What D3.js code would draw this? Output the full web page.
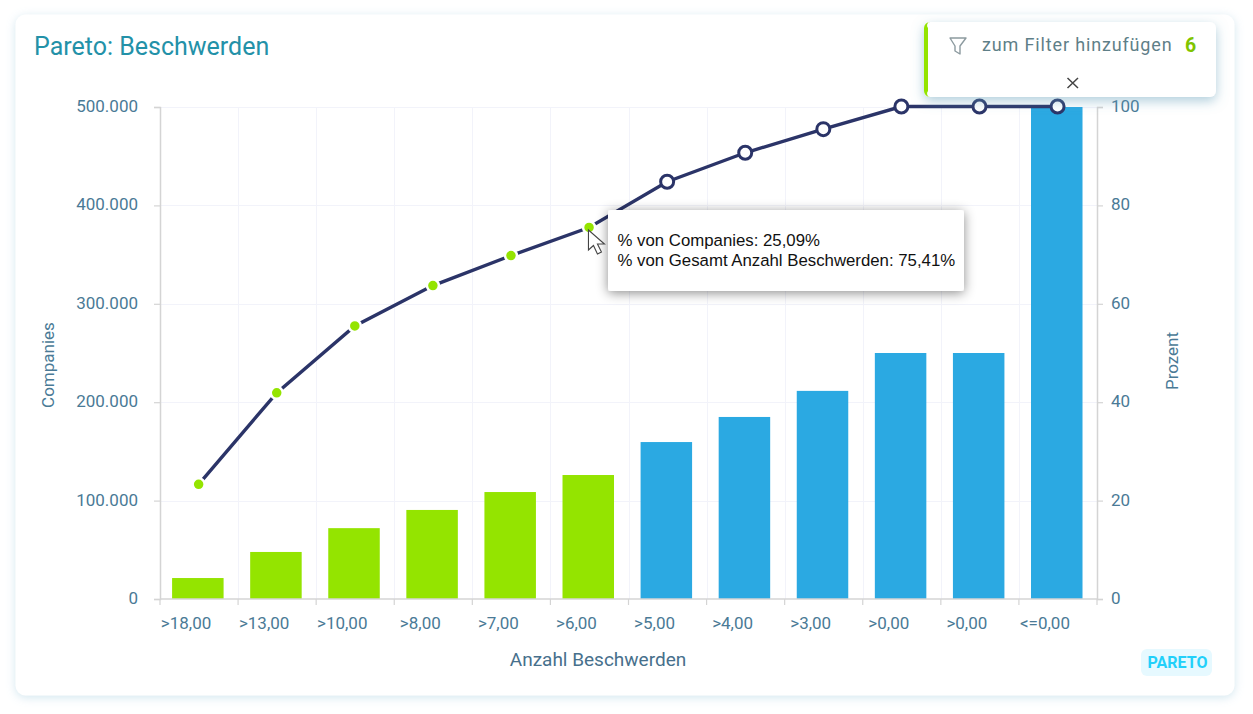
<!DOCTYPE html>
<html><head><meta charset="utf-8">
<script src="https://cdn.jsdelivr.net/npm/d3@7"></script>
<style>
html,body{margin:0;padding:0;background:#fff;width:1253px;height:714px;overflow:hidden}
text{font-family:Roboto,sans-serif}
</style></head><body>
<svg id="c" width="1253" height="714"></svg>
<script>
const categories=[">18,00",">13,00",">10,00",">8,00",">7,00",">6,00",">5,00",">4,00",">3,00",">0,00",">0,00 ","<=0,00"];
const companies=[21300,47800,72000,90500,108700,126000,159500,185000,211500,250000,250000,500000];
const percent=[23.2,41.8,55.4,63.6,69.7,75.41,84.7,90.6,95.4,100,100,100];
const selected=[1,1,1,1,1,1,0,0,0,0,0,0];
const leftTicks=[0,100000,200000,300000,400000,500000];
const rightTicks=[0,20,40,60,80,100];
const tooltipLines=["% von Companies: 25,09%","% von Gesamt Anzahl Beschwerden: 75,41%"];

const svg=d3.select("#c");
const defs=svg.append("defs");
function shadow(id,dy,sd,col,op){
  const f=defs.append("filter").attr("id",id).attr("x","-20%").attr("y","-30%").attr("width","140%").attr("height","170%");
  f.append("feDropShadow").attr("dx",0).attr("dy",dy).attr("stdDeviation",sd).attr("flood-color",col).attr("flood-opacity",op);
}
shadow("card",2,5,"#9cc9dc",.45);
shadow("pop",4,6,"#5f9db8",.5);
shadow("tip",2,6,"#000",.45);

svg.append("rect").attr("x",15.5).attr("y",14.5).attr("width",1219).attr("height",681).attr("rx",10).attr("fill","#fff").attr("filter","url(#card)");
svg.append("text").attr("x",34).attr("y",55).attr("font-size",25).attr("fill","#2391a8").text("Pareto: Beschwerden");

const L=160,R=1097,T=107,B=599;
const x=d3.scaleBand().domain(categories).range([L,R]).paddingInner(0).paddingOuter(0);
const yL=d3.scaleLinear().domain([0,500000]).range([B,T]);
const yR=d3.scaleLinear().domain([0,100]).range([B,T]);
const de=d3.formatLocale({decimal:",",thousands:".",grouping:[3],currency:["","€"]});
const axisCol="#d4d4d4", tickText="#4a7a96";

const grid=svg.append("g").attr("stroke","#f2f3fa").attr("stroke-width",1);
leftTicks.slice(1).forEach(t=>grid.append("line").attr("x1",L).attr("x2",R).attr("y1",Math.round(yL(t))+.5).attr("y2",Math.round(yL(t))+.5));
categories.slice(1).forEach(c=>grid.append("line").attr("x1",Math.round(x(c))+.5).attr("x2",Math.round(x(c))+.5).attr("y1",T).attr("y2",B));

const barW=51.5;
const cx=i=>x(categories[i])+x.bandwidth()/2;
svg.append("g").selectAll("rect").data(categories).join("rect")
 .attr("x",(c,i)=>cx(i)-1.2-barW/2)
 .attr("width",barW)
 .attr("y",(c,i)=>yL(companies[i]))
 .attr("height",(c,i)=>B-yL(companies[i]))
 .attr("fill",(c,i)=>selected[i]?"#94e400":"#2ba9e2");

function style(g){
  g.selectAll("path.domain").attr("stroke",axisCol).attr("stroke-width",1.5);
  g.selectAll(".tick line").attr("stroke",axisCol).attr("stroke-width",1.2);
  g.selectAll("text").attr("fill",tickText).attr("font-size",17).attr("font-family","Roboto,sans-serif");
}
const gL=svg.append("g").attr("transform",`translate(${L},0)`).call(d3.axisLeft(yL).tickValues(leftTicks).tickFormat(de.format(",d")).tickSize(6).tickSizeOuter(6).tickPadding(16));
style(gL);
const gR=svg.append("g").attr("transform",`translate(${R},0)`).call(d3.axisRight(yR).tickValues(rightTicks).tickSize(6).tickSizeOuter(6).tickPadding(8));
style(gR);
gL.selectAll(".tick text").attr("dy","0.27em");
gR.selectAll(".tick text").attr("dy","0.27em");
const gX=svg.append("g").attr("transform",`translate(0,${B})`).call(d3.axisBottom(x).tickSize(0).tickPadding(18).tickFormat(d=>d.trim()));
gX.select("path.domain").remove();
gX.selectAll("text").attr("fill",tickText).attr("font-size",17).attr("font-family","Roboto,sans-serif").attr("dx",-13);
svg.append("g").selectAll("line").data(categories.concat(["__end"])).join("line")
 .attr("x1",(c)=>c==="__end"?R:x(c)).attr("x2",(c)=>c==="__end"?R:x(c))
 .attr("y1",B).attr("y2",B+6).attr("stroke",axisCol).attr("stroke-width",1.2);
svg.append("line").attr("x1",L).attr("x2",R).attr("y1",B).attr("y2",B).attr("stroke",axisCol).attr("stroke-width",1.5);

svg.append("text").attr("transform",`translate(54,${(T+B)/2+12}) rotate(-90)`).attr("text-anchor","middle").attr("font-size",17).attr("fill",tickText).text("Companies");
svg.append("text").attr("transform",`translate(1178,${(T+B)/2+8}) rotate(-90)`).attr("text-anchor","middle").attr("font-size",17).attr("fill",tickText).text("Prozent");
svg.append("text").attr("x",598).attr("y",666).attr("text-anchor","middle").attr("font-size",19).attr("fill","#47708c").text("Anzahl Beschwerden");

const line=d3.line().x((d,i)=>cx(i)-0.4).y(d=>yR(d)-0.5);
svg.append("path").datum(percent).attr("d",line).attr("fill","none").attr("stroke","#2b3468").attr("stroke-width",3.4);
svg.append("g").selectAll("circle").data(percent).join("circle")
 .attr("cx",(d,i)=>cx(i)-0.4).attr("cy",d=>yR(d)-0.5)
 .attr("r",(d,i)=>selected[i]?6:6.5)
 .attr("fill",(d,i)=>selected[i]?"#94e400":"#fff")
 .attr("stroke",(d,i)=>selected[i]?"#fff":"#2b3468")
 .attr("stroke-width",(d,i)=>selected[i]?2.5:3);

// tooltip
const hover=5;
const tx=608,ty=210;
svg.append("rect").attr("x",tx).attr("y",ty).attr("width",356).attr("height",81).attr("rx",3).attr("fill","#fff").attr("filter","url(#tip)");
svg.append("g").selectAll("text").data(tooltipLines).join("text")
 .attr("x",tx+9.5).attr("y",(d,i)=>ty+36+i*20).attr("font-size",16.8)
 .style("font-family","Liberation Sans,Arial,sans-serif").attr("fill","#111").text(d=>d);
// cursor
svg.append("path").attr("transform",`translate(${cx(hover)-1},${yR(percent[hover])+2})`)
 .attr("d","M0,0 L0,20 L5,15.5 L9,24 L13,22 L9,14 L16,14 Z").attr("fill","#fff").attr("stroke","#444").attr("stroke-width",1.1);

// filter popup
svg.append("rect").attr("x",924).attr("y",22).attr("width",292).attr("height",75).attr("rx",6).attr("fill","#fff").attr("filter","url(#pop)");
svg.append("path").attr("d","M930,22 A6,6 0 0 0 924,28 L924,91 A6,6 0 0 0 930,97 L929,97 A4,4 0 0 1 928,91 L928,28 A4,4 0 0 1 929,22 Z").attr("fill","#94e400");
svg.append("path").attr("d","M950,38 H966 L960,46 V54 L955,51 V46 Z").attr("fill","none").attr("stroke","#8c9a9f").attr("stroke-width",1.4).attr("stroke-linejoin","round");
svg.append("text").attr("x",982).attr("y",51).attr("font-size",18).attr("letter-spacing",.85).attr("fill","#5f7f88").text("zum Filter hinzufügen");
svg.append("text").attr("x",1185).attr("y",51.5).attr("font-size",19.5).attr("font-weight",700).attr("fill","#7fc400").text("6");
svg.append("path").attr("d","M1067.5,78 L1078,88 M1078,78 L1067.5,88").attr("stroke","#444").attr("stroke-width",1.5);

// badge
svg.append("rect").attr("x",1141).attr("y",649).attr("width",71).attr("height",27).attr("rx",6).attr("fill","#e6f9ff");
svg.append("text").attr("x",1177.5).attr("y",668).attr("text-anchor","middle").attr("font-size",16).attr("font-weight",700).attr("fill","#22d0fa").text("PARETO");
</script>
</body></html>
